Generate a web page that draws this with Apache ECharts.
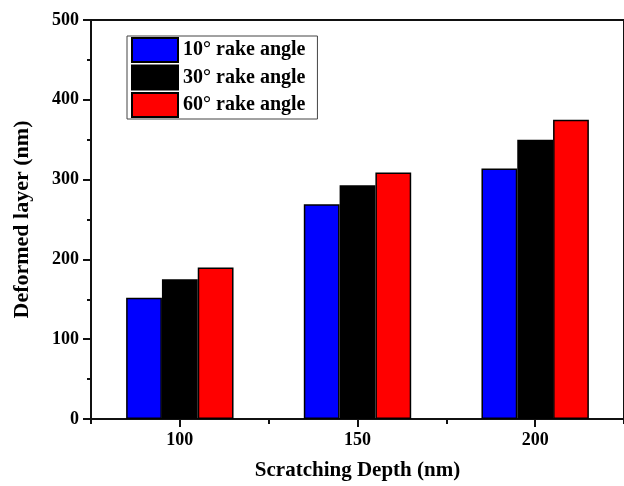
<!DOCTYPE html>
<html>
<head>
<meta charset="utf-8">
<style>
  html, body { margin: 0; padding: 0; background: #fff; }
  #chart { width: 624px; height: 486px; }
</style>
<script src="https://cdn.jsdelivr.net/npm/echarts@6/dist/echarts.min.js"></script>
</head>
<body>
<div id="chart"></div>
<script>
// scratching depths (nm)
const depths = ['100', '150', '200'];
// deformed layer thickness (nm) per rake angle
const rake10 = [152, 269, 314];
const rake30 = [175, 293, 350];
const rake60 = [190, 309, 375];
const seriesNames = ['10\u00b0 rake angle', '30\u00b0 rake angle', '60\u00b0 rake angle'];
const seriesColors = ['#0000ff', '#000000', '#ff0000'];

const serif = "'Times New Roman', 'Liberation Serif', serif";
const ink = '#111';

const chart = echarts.init(document.getElementById('chart'));

const makeBar = (name, values, color) => ({
  name: name,
  type: 'bar',
  xAxisIndex: 0,
  data: values,
  barWidth: 35.8,
  barGap: '0%',
  itemStyle: {
    color: color,
    borderColor: '#000',
    borderWidth: 1.5
  }
});

const option = {
  animation: false,
  backgroundColor: '#fff',
  grid: {
    left: 91,
    top: 20,
    width: 536,
    height: 399,
    show: true,
    borderColor: ink,
    borderWidth: 2,
    containLabel: false
  },
  legend: {
    orient: 'vertical',
    left: 127,
    top: 36,
    padding: [1, 12, 1, 4],
    itemGap: 1.5,
    itemWidth: 46,
    itemHeight: 24,
    icon: 'rect',
    borderColor: '#444',
    borderWidth: 1,
    selectedMode: false,
    data: seriesNames,
    textStyle: {
      fontFamily: serif,
      fontWeight: 'bold',
      fontSize: 20,
      color: '#000'
    }
  },
  xAxis: [
    {
      type: 'category',
      data: depths,
      position: 'bottom',
      name: 'Scratching Depth (nm)',
      nameLocation: 'middle',
      nameGap: 41,
      nameTextStyle: {
        fontFamily: serif,
        fontWeight: 'bold',
        fontSize: 21,
        color: '#000'
      },
      axisLine: { show: true, lineStyle: { color: ink, width: 2 } },
      axisTick: { show: true, alignWithLabel: true, length: 8, lineStyle: { color: ink, width: 2 } },
      axisLabel: {
        margin: 12,
        fontFamily: serif,
        fontWeight: 'bold',
        fontSize: 18,
        color: '#000'
      },
      splitLine: { show: false }
    },
    {
      // minor ticks every 25 nm
      type: 'value',
      position: 'bottom',
      min: 75,
      max: 225,
      interval: 25,
      axisLine: { show: false },
      axisTick: { show: true, length: 5, lineStyle: { color: ink, width: 2 } },
      axisLabel: { show: false },
      splitLine: { show: false }
    }
  ],
  yAxis: {
    type: 'value',
    min: 0,
    max: 500,
    interval: 100,
    name: 'Deformed layer (nm)',
    nameLocation: 'middle',
    nameGap: 58,
    nameTextStyle: {
      fontFamily: serif,
      fontWeight: 'bold',
      fontSize: 22,
      color: '#000'
    },
    axisLine: { show: true, lineStyle: { color: ink, width: 2 } },
    axisTick: { show: true, length: 8, lineStyle: { color: ink, width: 2 } },
    minorTick: { show: true, splitNumber: 2, length: 4, lineStyle: { color: ink, width: 2 } },
    axisLabel: {
      margin: 12,
      fontFamily: serif,
      fontWeight: 'bold',
      fontSize: 18,
      color: '#000'
    },
    splitLine: { show: false },
    minorSplitLine: { show: false }
  },
  series: [
    makeBar(seriesNames[0], rake10, seriesColors[0]),
    makeBar(seriesNames[1], rake30, seriesColors[1]),
    makeBar(seriesNames[2], rake60, seriesColors[2])
  ]
};

chart.setOption(option);
</script>
</body>
</html>
